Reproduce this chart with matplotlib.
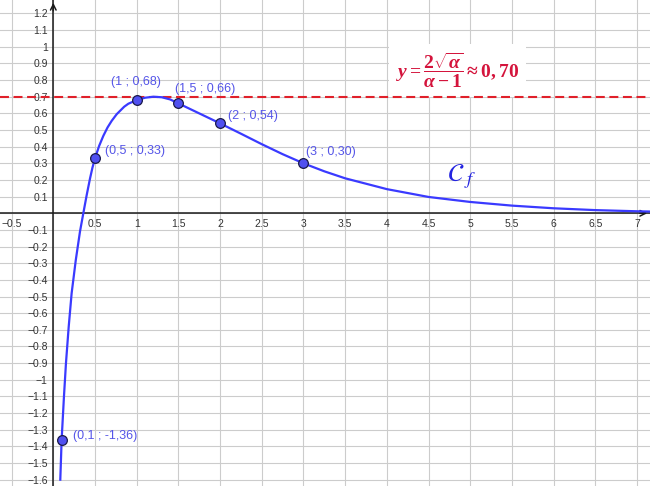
import numpy as np
import matplotlib
matplotlib.use("Agg")
import matplotlib.pyplot as plt

# curve C_f, values
curve_x = [0.084, 0.1, 0.128, 0.152, 0.185, 0.22, 0.27, 0.32, 0.36, 0.40, 0.44, 0.47,
           0.5, 0.55, 0.6, 0.65, 0.7, 0.76, 0.85, 0.9, 1.0, 1.1, 1.2, 1.3, 1.4, 1.5,
           1.75, 2.0, 2.25, 2.5, 2.75, 3.0, 3.25, 3.5, 4.0, 4.5, 5.0, 5.5, 6.0, 6.5,
           7.0, 7.2]
curve_y = [-1.6, -1.36, -1.1, -0.9, -0.68, -0.48, -0.28, -0.11, 0.0, 0.108, 0.208, 0.275,
           0.33, 0.405, 0.465, 0.515, 0.555, 0.595, 0.64, 0.658, 0.68, 0.694, 0.70, 0.697,
           0.684, 0.66, 0.60, 0.54, 0.478, 0.415, 0.355, 0.30, 0.252, 0.21, 0.145, 0.098,
           0.068, 0.046, 0.030, 0.019, 0.012, 0.010]

# marked points
pt_x = [0.1, 0.5, 1, 1.5, 2, 3]
pt_y = [-1.36, 0.33, 0.68, 0.66, 0.54, 0.30]
pt_labels = ["(0,1 ; -1,36)", "(0,5 ; 0,33)", "(1 ; 0,68)",
             "(1,5 ; 0,66)", "(2 ; 0,54)", "(3 ; 0,30)"]
lbl_off = [(11, 4), (10, 7), (-26, 18), (-3, 14), (8, 7), (3, 11)]  # pixels

asym_y = 0.70

x_ticks = np.arange(-0.5, 7.01, 0.5)
y_ticks = np.round(np.arange(-1.6, 1.21, 0.1), 1)

plt.rcParams['mathtext.fontset'] = 'custom'
plt.rcParams['mathtext.it'] = 'Liberation Serif:italic:bold'
plt.rcParams['mathtext.rm'] = 'Liberation Serif:bold'
plt.rcParams['mathtext.bf'] = 'Liberation Serif:bold'

fig = plt.figure(figsize=(6.5, 4.86), dpi=100)
ax = fig.add_axes([0, 0, 1, 1])
ax.set_xlim(-0.639, 7.155)
ax.set_ylim(-1.638, 1.281)

ax.spines['left'].set_position('zero')
ax.spines['bottom'].set_position('zero')
ax.spines['right'].set_color('none')
ax.spines['top'].set_color('none')
for s in ('left', 'bottom'):
    ax.spines[s].set_color('#1a1a1a')
    ax.spines[s].set_linewidth(1.1)
    ax.spines[s].set_zorder(3)

ax.set_xticks(x_ticks)
ax.set_xticklabels([("" if abs(v) < 1e-9 else f"{v:g}".replace("-", "\u2212")) for v in x_ticks])
ax.set_yticks(y_ticks)
ax.set_yticklabels([("" if abs(v) < 1e-9 else f"{v:g}".replace("-", "\u2212")) for v in y_ticks])
ax.tick_params(length=0, labelsize=7.5, labelcolor='#333333', pad=4)
for t in ax.get_xticklabels() + ax.get_yticklabels():
    t.set_family('Liberation Sans')
ax.grid(True, color='#cccccc', lw=0.8)
ax.set_axisbelow(True)

# arrow heads on the axes
ax.annotate('', xy=(7.155, 0), xytext=(7.0, 0),
            arrowprops=dict(arrowstyle='->', color='#1a1a1a', lw=1.1, mutation_scale=10))
ax.annotate('', xy=(0, 1.281), xytext=(0, 1.2),
            arrowprops=dict(arrowstyle='->', color='#1a1a1a', lw=1.1, mutation_scale=10))

ax.axhline(asym_y, color='#e0202a', lw=1.5, ls=(0, (4.3, 2.2)), zorder=4)

ax.plot(curve_x, curve_y, color='#3a3aff', lw=1.6, zorder=5)
ax.plot(pt_x, pt_y, 'o', ms=7, mfc='#5050f0', mec='#1a1a4a', mew=0.9, zorder=6)
for x, y, s, off in zip(pt_x, pt_y, pt_labels, lbl_off):
    ax.annotate(s, (x, y), xytext=off, textcoords='offset pixels',
                ha='left', va='center', fontsize=9, color='#5555e8',
                family='Liberation Sans', zorder=7)

ax.text(4.85, 0.86, r'$y=\dfrac{2\sqrt{\alpha}}{\alpha-1}\approx 0,70$',
        ha='center', va='center', fontsize=14, color='#d4143c', zorder=3.5,
        bbox=dict(boxstyle='square,pad=0.35', fc='white', ec='none'))

ax.text(4.9, 0.22, r'$\mathcal{C}_{\ f}$', math_fontfamily='stix',
        ha='center', va='center', fontsize=19, color='#2424e0', zorder=8)

fig.savefig('out.png', dpi=100)
